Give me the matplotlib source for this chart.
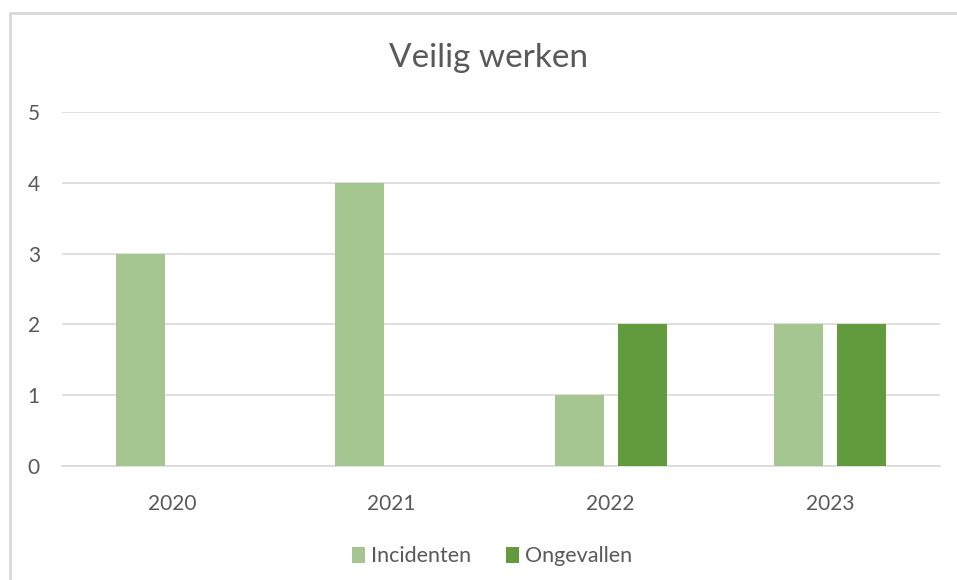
import matplotlib.pyplot as plt
import numpy as np
from matplotlib.patches import Rectangle

plt.rcParams['font.family'] = ['Lato', 'DejaVu Sans']

jaren = ['2020', '2021', '2022', '2023']
incidenten = [3, 4, 1, 2]
ongevallen = [0, 0, 2, 2]

kleur_inc = '#A5C591'
kleur_ong = '#629B3E'
tekst = '#595959'

fig = plt.figure(figsize=(9.57, 5.8), dpi=100)
ax = fig.add_axes([0.0648, 0.1966, 0.9174, 0.6103])

# rand om de grafiek (zoals in excel), rechts en onder valt hij buiten beeld
fig.patches.append(Rectangle((10/957, -0.1), 1.2, 1.1 - 13/580, transform=fig.transFigure,
                             fill=False, edgecolor='#D9D9D9', lw=2, clip_on=False))

x = np.arange(len(jaren))
w = 0.223
ax.bar(x - 0.143, incidenten, w, color=kleur_inc, label='Incidenten', zorder=3)
ax.bar(x + 0.143, ongevallen, w, color=kleur_ong, label='Ongevallen', zorder=3)

ax.set_xlim(-0.5, 3.5)
ax.set_ylim(0, 5)
ax.set_yticks(range(6))
ax.set_xticks(x)
ax.set_xticklabels(jaren)
ax.grid(axis='y', color='#D9D9D9', lw=1.2, zorder=0)
for s in ['top', 'right', 'left']:
    ax.spines[s].set_visible(False)
ax.spines['bottom'].set_color('#D9D9D9')
ax.spines['bottom'].set_linewidth(1.2)
ax.tick_params(length=0, colors=tekst, labelsize=15)
ax.tick_params(axis='y', pad=16)
ax.tick_params(axis='x', pad=20)

fig.text(0.51, 0.90, 'Veilig werken', ha='center', va='center', fontsize=24, color=tekst)

ax.legend(loc='center', bbox_to_anchor=(0.49, -0.255), ncol=2, frameon=False,
          fontsize=15.5, labelcolor=tekst, handlelength=0.6, handleheight=0.8,
          handletextpad=0.3, columnspacing=1.6)

fig.savefig('out.png', dpi=100)
